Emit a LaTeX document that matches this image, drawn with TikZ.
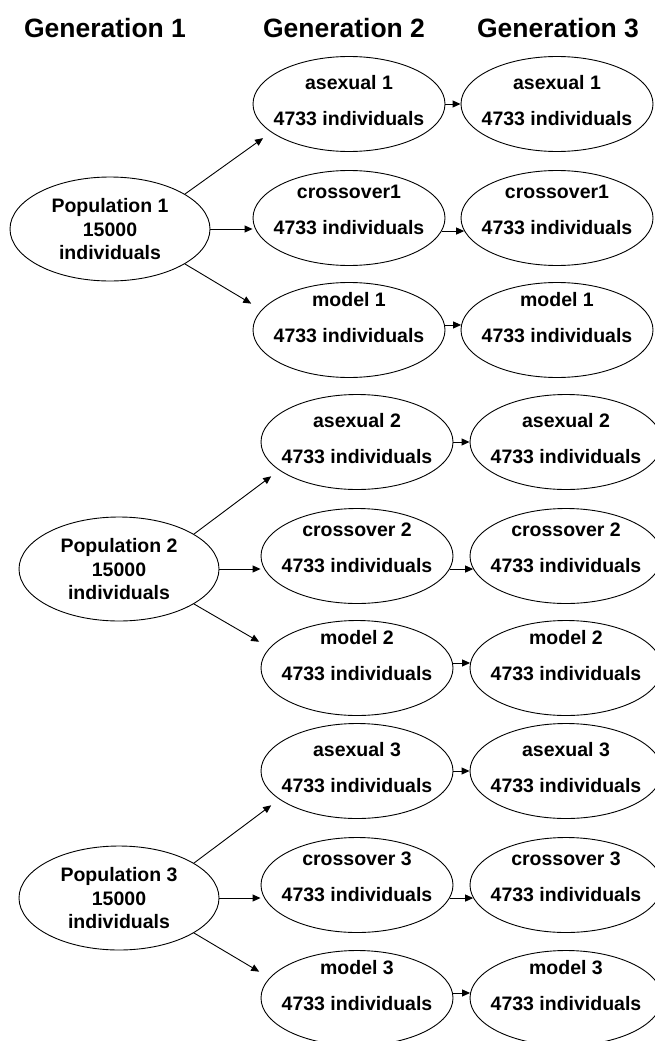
\documentclass[tikz,border=0pt]{standalone}
\usepackage{fontspec}
\setmainfont{Liberation Sans}
\usetikzlibrary{shapes.geometric}
\usetikzlibrary{arrows.meta}

\begin{document}
\begin{tikzpicture}[x=1pt, y=-1pt, line width=0.9pt,
		every node/.style={font=\bfseries\fontsize{19.5}{23.5}\selectfont, align=center},
		header/.style={font=\bfseries\fontsize{26.5}{30}\selectfont},
		popnode/.style={draw, ellipse, inner sep=0pt, minimum width=200pt, minimum height=104pt},
		subpop/.style={draw, ellipse, inner sep=-10pt, minimum width=192pt, minimum height=95pt},
		rowa/.style={subpop, text depth=7pt},
		rowc/.style={subpop, text depth=16pt},
		rowm/.style={subpop, text depth=26pt},
		arr/.style={-{Triangle[length=8pt,width=7pt]}}]
		\useasboundingbox (0,0) rectangle (654,1041);
		\node[header] (gen1) at (105,28) {Generation 1};
		\node[header] (gen2) at (344,28) {Generation 2};
		\node[header] (gen3) at (558,28) {Generation 3};
		% population 1
		\node[popnode, text depth=-5pt] (pop1) at (110,229) {Population 1\\15000\\individuals};
		\node[rowa] (a1g2) at (349,104) {asexual 1\\[12.5pt]4733 individuals};
		\node[rowc] (c1g2) at (349,218) {crossover1\\[12.5pt]4733 individuals};
		\node[rowm] (m1g2) at (349,330) {model 1\\[12.5pt]4733 individuals};
		\node[rowa] (a1g3) at (557,104) {asexual 1\\[12.5pt]4733 individuals};
		\node[rowc] (c1g3) at (557,218) {crossover1\\[12.5pt]4733 individuals};
		\node[rowm] (m1g3) at (557,330) {model 1\\[12.5pt]4733 individuals};
		% population 2
		\node[popnode, text depth=-5pt] (pop2) at (119,569) {Population 2\\15000\\individuals};
		\node[rowa] (a2g2) at (357,442) {asexual 2\\[12.5pt]4733 individuals};
		\node[rowc] (c2g2) at (357,556) {crossover 2\\[12.5pt]4733 individuals};
		\node[rowm] (m2g2) at (357,668) {model 2\\[12.5pt]4733 individuals};
		\node[rowa] (a2g3) at (566,442) {asexual 2\\[12.5pt]4733 individuals};
		\node[rowc] (c2g3) at (566,556) {crossover 2\\[12.5pt]4733 individuals};
		\node[rowm] (m2g3) at (566,668) {model 2\\[12.5pt]4733 individuals};
		% population 3
		\node[popnode, text depth=-5pt] (pop3) at (119,898) {Population 3\\15000\\individuals};
		\node[rowa] (a3g2) at (357,771) {asexual 3\\[12.5pt]4733 individuals};
		\node[rowc] (c3g2) at (357,885) {crossover 3\\[12.5pt]4733 individuals};
		\node[rowm] (m3g2) at (357,998) {model 3\\[12.5pt]4733 individuals};
		\node[rowa] (a3g3) at (566,771) {asexual 3\\[12.5pt]4733 individuals};
		\node[rowc] (c3g3) at (566,885) {crossover 3\\[12.5pt]4733 individuals};
		\node[rowm] (m3g3) at (566,998) {model 3\\[12.5pt]4733 individuals};
		% arrows
		\draw[arr, shorten >=10pt] (pop1.25) -- (a1g2.200);
		\draw[arr] (pop1.east) -- (pop1.east -| c1g2.west);
		\draw[arr, shorten >=12pt] (pop1.-25) -- (m1g2.167);
		\draw[arr] (a1g2.east) -- (a1g3.west);
		\draw[arr] (c1g2.-8) -- (c1g3.188);
		\draw[arr] (m1g2.3) -- (m1g3.177);
		\draw[arr, shorten >=10pt] (pop2.25) -- (a2g2.200);
		\draw[arr] (pop2.east) -- (pop2.east -| c2g2.west);
		\draw[arr, shorten >=12pt] (pop2.-25) -- (m2g2.167);
		\draw[arr] (a2g2.east) -- (a2g3.west);
		\draw[arr] (c2g2.-8) -- (c2g3.188);
		\draw[arr] (m2g2.3) -- (m2g3.177);
		\draw[arr, shorten >=10pt] (pop3.25) -- (a3g2.200);
		\draw[arr] (pop3.east) -- (pop3.east -| c3g2.west);
		\draw[arr, shorten >=12pt] (pop3.-25) -- (m3g2.167);
		\draw[arr] (a3g2.east) -- (a3g3.west);
		\draw[arr] (c3g2.-8) -- (c3g3.188);
		\draw[arr] (m3g2.3) -- (m3g3.177);
	\end{tikzpicture}
\end{document}
